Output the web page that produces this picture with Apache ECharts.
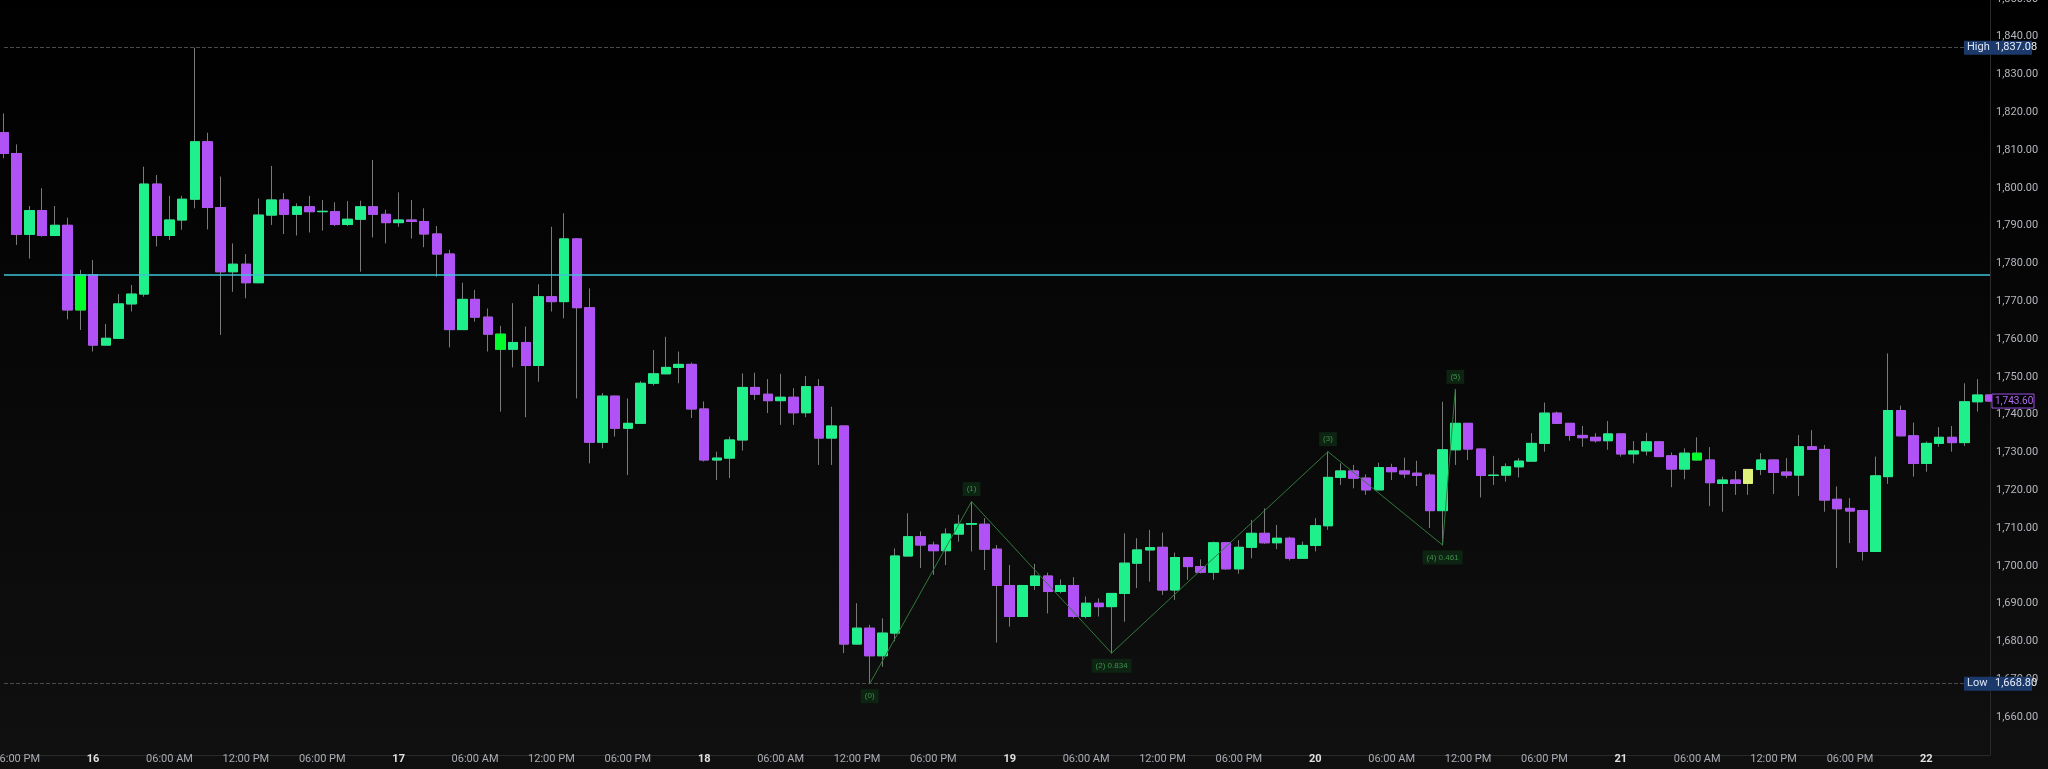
<!DOCTYPE html>
<html><head><meta charset="utf-8">
<script src="https://cdn.jsdelivr.net/npm/echarts@6/dist/echarts.min.js"></script>
<style>html,body{margin:0;padding:0;background:#0c0c0c}#c{width:2048px;height:769px}</style>
</head><body><div id="c"></div>
<script>
const opens=[1814.6,1809.1,1787.7,1794.0,1787.4,1790.1,1767.7,1777.0,1758.4,1760.2,1769.3,1771.9,1801.0,1787.4,1791.5,1797.0,1812.2,1794.8,1777.8,1779.8,1774.9,1792.8,1796.8,1793.0,1795.0,1793.7,1793.7,1790.3,1791.7,1795.0,1793.0,1790.8,1791.5,1791.1,1787.8,1782.5,1762.5,1770.5,1765.8,1757.3,1757.3,1759.1,1753.0,1771.2,1769.9,1786.5,1768.3,1732.7,1744.9,1736.4,1737.7,1748.3,1750.8,1752.5,1753.3,1741.5,1728.0,1728.5,1733.3,1747.2,1745.4,1743.7,1744.6,1740.5,1747.4,1733.8,1737.0,1679.3,1683.5,1676.2,1682.2,1702.6,1707.7,1705.5,1704.0,1708.4,1711.0,1711.0,1704.4,1694.8,1686.6,1694.8,1697.3,1693.2,1694.8,1686.6,1690.1,1689.2,1692.7,1700.7,1704.2,1704.9,1693.6,1702.2,1699.8,1698.3,1706.1,1699.2,1704.9,1708.6,1706.1,1707.3,1702.0,1705.4,1710.6,1723.4,1725.1,1723.2,1720.1,1726.0,1725.1,1724.5,1724.0,1714.6,1730.7,1737.7,1730.9,1723.9,1724.0,1726.2,1727.7,1732.4,1740.4,1737.7,1734.5,1734.0,1733.1,1734.9,1729.6,1730.4,1732.8,1729.1,1725.6,1728.0,1728.0,1721.8,1722.7,1721.8,1725.5,1728.0,1724.8,1724.0,1731.5,1730.8,1717.6,1715.2,1714.6,1703.8,1723.6,1741.1,1734.4,1727.1,1732.4,1734.0,1732.6,1743.4,1745.2];
const closes=[1809.1,1787.7,1794.0,1787.4,1790.1,1767.7,1777.0,1758.4,1760.2,1769.3,1771.9,1801.0,1787.4,1791.5,1797.0,1812.2,1794.8,1777.8,1779.8,1774.9,1792.8,1796.8,1793.0,1795.0,1793.7,1793.8,1790.3,1791.7,1795.0,1793.0,1790.8,1791.5,1791.1,1787.8,1782.5,1762.5,1770.5,1765.8,1761.3,1761.3,1759.1,1753.0,1771.2,1769.9,1786.5,1768.3,1732.7,1744.9,1736.4,1737.7,1748.3,1750.8,1752.5,1753.3,1741.5,1728.0,1728.5,1733.3,1747.2,1745.4,1743.7,1744.6,1740.5,1747.4,1733.8,1737.0,1679.3,1683.5,1676.2,1682.2,1702.6,1707.7,1705.5,1704.0,1708.4,1711.0,1711.2,1704.4,1694.8,1686.6,1694.8,1697.3,1693.2,1694.8,1686.6,1690.1,1689.2,1692.7,1700.7,1704.2,1704.8,1693.6,1702.2,1699.8,1698.3,1706.1,1699.2,1704.9,1708.6,1706.1,1707.3,1702.0,1705.4,1710.6,1723.4,1725.1,1723.2,1720.1,1726.0,1724.9,1724.3,1723.9,1714.6,1730.7,1737.7,1730.9,1723.9,1724.0,1726.2,1727.7,1732.4,1740.4,1737.7,1734.5,1733.9,1733.1,1734.9,1729.6,1730.4,1732.8,1728.9,1725.6,1729.8,1729.8,1722.0,1722.7,1721.8,1725.5,1728.0,1724.7,1724.0,1731.5,1730.8,1717.4,1715.1,1714.5,1703.8,1723.8,1741.1,1734.4,1727.1,1732.4,1734.0,1732.6,1743.4,1745.2,1743.6];
const lows=[1807.8,1784.9,1781.3,1787.1,1787.2,1765.2,1762.4,1756.7,1758.3,1760.1,1767.3,1771.2,1784.5,1786.2,1788.9,1794.6,1789.0,1761.1,1772.5,1770.8,1774.8,1790.2,1787.8,1787.4,1788.2,1788.7,1789.9,1789.9,1777.8,1786.9,1785.3,1789.7,1786.6,1784.3,1776.5,1757.8,1762.4,1764.6,1756.7,1740.8,1752.5,1739.3,1748.7,1767.3,1765.5,1744.3,1727.1,1731.1,1734.2,1724.0,1737.6,1747.7,1750.7,1748.3,1739.1,1727.6,1722.7,1723.2,1730.5,1743.9,1740.4,1737.3,1737.3,1739.3,1726.7,1726.7,1676.9,1679.2,1668.8,1673.3,1680.0,1702.5,1699.4,1697.6,1700.2,1706.4,1703.8,1698.9,1679.7,1683.9,1686.5,1693.6,1687.4,1692.7,1686.1,1686.1,1686.6,1676.9,1685.2,1694.1,1695.8,1692.3,1691.0,1696.3,1698.0,1696.3,1699.0,1697.9,1702.0,1705.8,1704.4,1701.4,1701.8,1703.8,1709.5,1721.4,1720.5,1718.8,1720.0,1722.7,1723.2,1721.1,1710.0,1705.5,1726.7,1728.0,1718.1,1721.4,1722.3,1723.4,1727.6,1730.2,1737.6,1733.1,1731.5,1732.6,1730.7,1728.9,1727.1,1729.2,1728.8,1720.8,1722.9,1727.9,1715.8,1714.3,1718.8,1718.8,1724.0,1719.0,1723.2,1718.5,1730.7,1714.3,1699.4,1706.0,1701.4,1703.7,1721.7,1734.3,1723.6,1724.9,1731.5,1730.2,1731.7,1740.8,1743.5];
const highs=[1819.7,1811.5,1795.2,1799.9,1795.2,1792.1,1778.3,1780.9,1764.0,1771.9,1774.3,1805.6,1803.4,1797.9,1797.9,1837.08,1814.6,1803.0,1785.3,1782.5,1797.2,1805.8,1798.6,1795.9,1797.9,1796.8,1796.2,1796.5,1796.6,1807.4,1794.2,1798.8,1796.8,1794.6,1789.9,1783.6,1774.9,1773.0,1768.1,1763.5,1769.5,1763.3,1774.5,1789.7,1793.3,1786.7,1773.4,1745.7,1745.0,1744.3,1748.9,1757.1,1760.6,1756.7,1753.8,1743.5,1730.2,1734.2,1750.9,1751.1,1749.4,1750.8,1747.0,1750.2,1749.4,1742.1,1737.1,1690.1,1684.4,1686.1,1704.6,1713.9,1709.1,1706.4,1709.9,1713.5,1717.0,1712.6,1705.5,1700.2,1694.9,1700.5,1698.2,1696.4,1697.0,1691.9,1691.4,1692.8,1708.6,1707.3,1709.5,1708.8,1703.5,1702.4,1701.7,1706.4,1706.2,1706.8,1712.1,1715.2,1710.8,1707.7,1706.4,1712.6,1730.2,1727.1,1726.7,1724.2,1727.3,1727.0,1728.6,1727.8,1724.5,1743.4,1746.7,1737.8,1731.0,1729.1,1727.1,1728.5,1735.1,1743.2,1740.8,1737.8,1737.0,1735.1,1738.3,1735.0,1733.0,1735.2,1732.9,1730.0,1731.1,1734.0,1731.4,1723.6,1725.1,1725.6,1729.8,1728.1,1728.5,1734.6,1735.9,1732.0,1721.0,1717.9,1714.8,1728.9,1756.2,1742.4,1737.9,1732.9,1736.7,1737.0,1748.3,1749.4,1745.3];
// special candle colours (index -> colour)
const specialIdx=[6,39,133,137];
const specialCol=['#00ff2a','#00ff2a','#00ff2a','#dff27a'];
// time tick labels every 6 hourly candles starting at index 1
const tickLabels=['06:00 PM','16','06:00 AM','12:00 PM','06:00 PM','17','06:00 AM','12:00 PM','06:00 PM','18','06:00 AM','12:00 PM','06:00 PM','19','06:00 AM','12:00 PM','06:00 PM','20','06:00 AM','12:00 PM','06:00 PM','21','06:00 AM','12:00 PM','06:00 PM','22'];
const waveIdx=[68,76,87,104,113,114];
const waveVal=[1668.8,1717.0,1676.9,1730.2,1705.5,1746.7];
const waveText=['(0)','(1)','(2) 0.834','(3)','(4) 0.461','(5)'];
const levelLine=1777.1, highVal=1837.08, lowVal=1668.80, lastVal=1743.60;

const N=opens.length;
const cats=[];for(let i=0;i<N;i++)cats.push(String(i));
const up='#1ff08c', dn='#b052f5';
const wickData=[], bodyData=[];
for(let i=0;i<N;i++){
  wickData.push([opens[i],closes[i],lows[i],highs[i]]);
  const o=opens[i],c=closes[i];
  const s=specialIdx.indexOf(i);
  const item={value:[o,c,Math.min(o,c),Math.max(o,c)]};
  if(s>=0)item.itemStyle={color:specialCol[s],color0:specialCol[s],borderColor:specialCol[s],borderColor0:specialCol[s]};
  bodyData.push(item);
}
const chart=echarts.init(document.getElementById('c'));
const dayRe=/^\d+$/;
chart.setOption({
  backgroundColor:{type:'linear',x:0,y:0,x2:0,y2:1,colorStops:[{offset:0,color:'#000'},{offset:1,color:'#101010'}]},
  animation:false,
  grid:{left:4,right:58,top:-1.1,bottom:14.2,outerBoundsMode:'none',containLabel:false},
  xAxis:{type:'category',data:cats,boundaryGap:false,
    axisLine:{lineStyle:{color:'#2a2a2a'}},axisTick:{show:false},splitLine:{show:false},
    axisLabel:{interval:(i)=>(i-1)%6===0,margin:-1,fontFamily:'Roboto',fontSize:11,
      formatter:(v,i)=>{const k=(i-1)/6;const t=tickLabels[k]||'';return dayRe.test(t)?'{d|'+t+'}':t;},
      color:'#a8abb3',rich:{d:{color:'#e0e0e0',fontWeight:'bold',fontSize:11}}}},
  yAxis:{type:'value',position:'right',min:1650,max:1850,interval:10,
    axisLine:{show:true,lineStyle:{color:'#2a2a2a'}},axisTick:{show:false},splitLine:{show:false},
    axisLabel:{margin:6,fontFamily:'Roboto',fontSize:11,color:'#b4b7be',showMinLabel:false,
      formatter:v=>v.toLocaleString('en-US',{minimumFractionDigits:2,maximumFractionDigits:2})}},
  series:[
    {type:'candlestick',data:wickData,barWidth:10,z:2,clip:false,
      itemStyle:{color:'#777',color0:'#777',borderColor:'#7a7a7a',borderColor0:'#7a7a7a',borderWidth:1}},
    {type:'candlestick',data:bodyData,barWidth:10,z:3,clip:false,
      itemStyle:{color:up,color0:dn,borderColor:up,borderColor0:dn,borderWidth:1},
      markLine:{symbol:'none',silent:true,label:{show:false},data:[
        {yAxis:levelLine,lineStyle:{color:'#3fc3d6',width:1.5,type:'solid'}},
        {yAxis:highVal,lineStyle:{color:'#4a4a4a',width:1,type:'dashed'}},
        {yAxis:lowVal,lineStyle:{color:'#4a4a4a',width:1,type:'dashed'}}]}},
    {type:'line',z:4,symbol:'circle',symbolSize:1,showSymbol:true,lineStyle:{color:'#2f7a3a',width:1},itemStyle:{color:'#2f7a3a'},
      label:{show:true,fontSize:8,color:'#3f8f4c',backgroundColor:'#0e2412',padding:[3,4]},
      data:waveIdx.map((x,i)=>({value:[x,waveVal[i]],label:{show:true,formatter:waveText[i],
        position:(i%2===0)?'bottom':'top',distance:5}}))
    }
  ]
});
function lbl(){
  const yH=chart.convertToPixel({yAxisIndex:0},highVal);
  const yL=chart.convertToPixel({yAxisIndex:0},lowVal);
  const yC=chart.convertToPixel({yAxisIndex:0},lastVal);
  const fmt=v=>v.toLocaleString('en-US',{minimumFractionDigits:2,maximumFractionDigits:2});
  const box=(y,t,v)=>[
    {type:'rect',shape:{x:1964,y:y-7,width:68,height:14},style:{fill:'#1b3a6b'},z:10},
    {type:'text',x:1967,y:y,style:{text:t,fill:'#dbe4f5',font:'11px Roboto',verticalAlign:'middle'},z:11},
    {type:'text',x:1995,y:y,style:{text:v,fill:'#e8eef8',font:'11px Roboto',verticalAlign:'middle'},z:11}];
  chart.setOption({graphic:[].concat(
    box(yH,'High',fmt(highVal)),box(yL,'Low',fmt(lowVal)),
    [{type:'rect',shape:{x:1992,y:yC-7,width:42,height:14},style:{fill:'#000',stroke:'#9b4fe0',lineWidth:1},z:10},
     {type:'text',x:1995,y:yC,style:{text:fmt(lastVal),fill:'#b56cf5',font:'10px Roboto',verticalAlign:'middle'},z:11}])});
}
lbl();
</script></body></html>
